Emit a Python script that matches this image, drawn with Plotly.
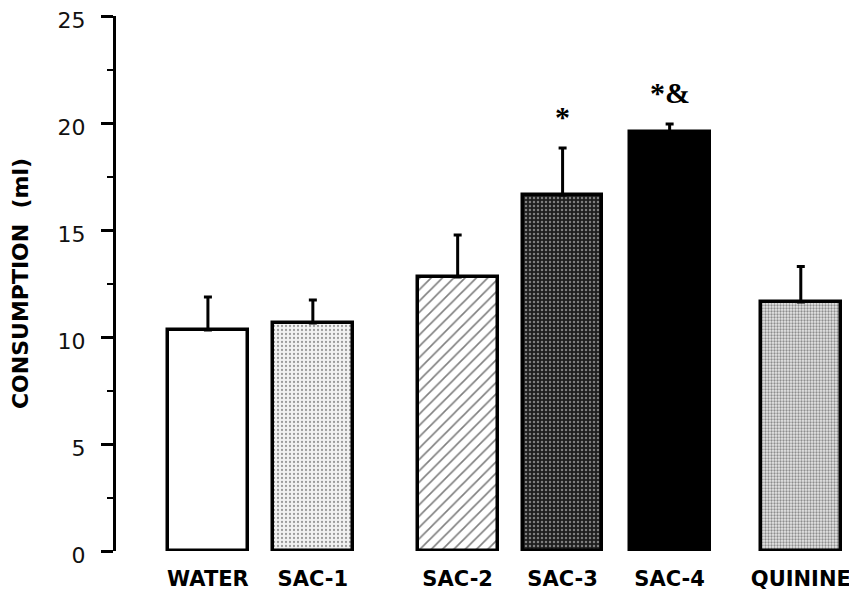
import plotly.graph_objects as go

categories = ["WATER", "SAC-1", "SAC-2", "SAC-3", "SAC-4", "QUININE"]
means = [10.33, 10.65, 12.8, 16.64, 19.58, 11.64]
err_tops = [11.87, 11.73, 14.77, 18.83, 19.95, 13.3]
sig_marks = ["", "", "", "*", "*&", ""]
y_ticks = [0, 5, 10, 15, 20, 25]

# layout-only: horizontal slot of each bar (groups separated by gaps)
slots = [0, 1, 2.38, 3.38, 4.4, 5.65]

patterns = [
    dict(shape="", bgcolor="white"),
    dict(shape=".", bgcolor="#f2f2f2", fgcolor="#444444", size=4, solidity=0.25),
    dict(shape="/", bgcolor="white", fgcolor="black", size=8, solidity=0.2),
    dict(shape=".", bgcolor="#1e1e1e", fgcolor="#dddddd", size=4, solidity=0.3),
    dict(shape="", bgcolor="black"),
    dict(shape=".", bgcolor="#e6e6e6", fgcolor="#333333", size=3, solidity=0.45),
]
fills = ["white", "#f2f2f2", "white", "#1e1e1e", "black", "#e6e6e6"]

fig = go.Figure()
for i, c in enumerate(categories):
    fig.add_trace(go.Bar(
        x=[slots[i]], y=[means[i]], width=0.76,
        marker=dict(color=fills[i], line=dict(color="black", width=3.5), pattern=patterns[i]),
        error_y=dict(type="data", symmetric=False, array=[err_tops[i] - means[i]],
                     arrayminus=[0], color="black", thickness=3, width=4),
        showlegend=False, name=c,
    ))

for i, m in enumerate(sig_marks):
    if m:
        fig.add_annotation(x=slots[i], y=err_tops[i], text=m, showarrow=False,
                           yanchor="bottom", yshift=13,
                           font=dict(family="Liberation Serif", size=30, color="black", weight="bold"))

# page body adds an 8px offset, so the figure is sized/margined to compensate
fig.update_layout(
    width=849, height=594,
    margin=dict(l=108, r=5, t=8, b=51),
    plot_bgcolor="white", paper_bgcolor="white",
    bargap=0,
)
fig.update_xaxes(
    range=[-0.876, 6.138], tickvals=slots, ticktext=categories,
    showline=False, showgrid=False, zeroline=False, ticks="",
    tickfont=dict(family="DejaVu Sans", size=21, color="black", weight="bold"),
    ticklabelstandoff=13, automargin=False, ticklabeloverflow="allow",
)
fig.update_yaxes(
    range=[0, 25], tickvals=y_ticks, showgrid=False, zeroline=False,
    showline=True, linecolor="black", linewidth=3,
    ticks="outside", ticklen=12, tickwidth=3, tickcolor="black",
    minor=dict(dtick=2.5, tick0=0, ticks="outside", ticklen=6, tickwidth=2, tickcolor="black"),
    tickfont=dict(family="DejaVu Sans", size=22, color="#111111"),
    ticklabelstandoff=11, ticklabelshift=4, automargin=False, ticklabeloverflow="allow",
    title=dict(text="CONSUMPTION  (ml)", standoff=35,
               font=dict(family="DejaVu Sans", size=22, color="black", weight="bold")),
)

fig.write_html("out.html")
